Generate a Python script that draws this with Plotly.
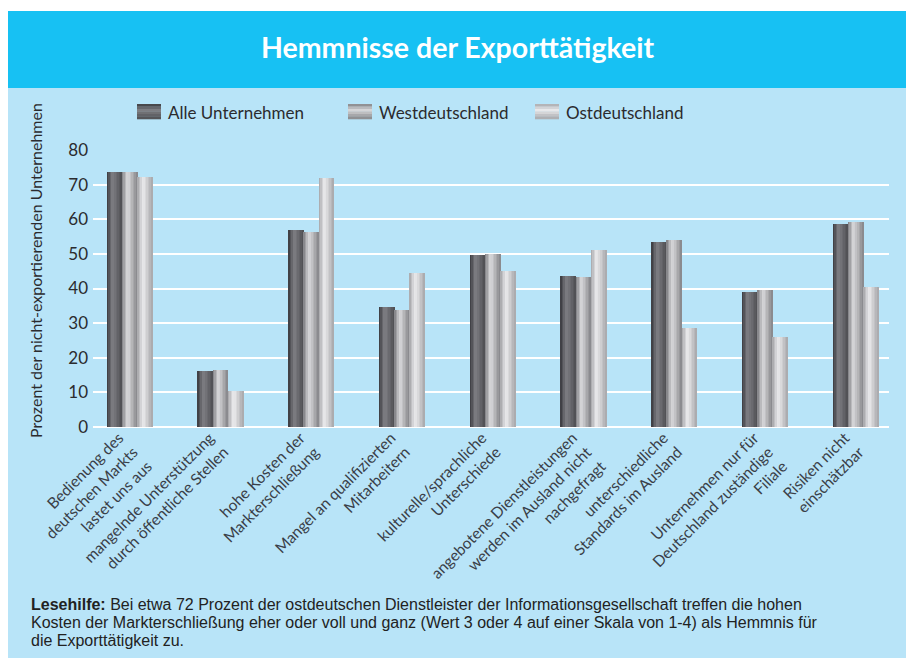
import plotly.graph_objects as go

# ---------------- data ----------------
categories = [
    "Bedienung des<br>deutschen Markts<br>lastet uns aus",
    "mangelnde Unterstützung<br>durch öffentliche Stellen",
    "hohe Kosten der<br>Markterschließung",
    "Mangel an qualifizierten<br>Mitarbeitern",
    "kulturelle/sprachliche<br>Unterschiede",
    "angebotene Dienstleistungen<br>werden im Ausland nicht<br>nachgefragt",
    "unterschiedliche<br>Standards im Ausland",
    "Unternehmen nur für<br>Deutschland zuständige<br>Filiale",
    "Risiken nicht<br>einschätzbar",
]
alle = [73.6, 16.2, 56.9, 34.7, 49.7, 43.6, 53.4, 39.0, 58.6]
west = [73.6, 16.5, 56.3, 33.9, 50.0, 43.4, 54.0, 39.6, 59.2]
ost = [72.1, 10.5, 71.9, 44.5, 45.1, 51.1, 28.6, 26.0, 40.5]
series_names = ["Alle Unternehmen", "Westdeutschland", "Ostdeutschland"]
y_ticks = [0, 10, 20, 30, 40, 50, 60, 70, 80]

title_text = "Hemmnisse der Exporttätigkeit"
y_title = "Prozent der nicht-exportierenden Unternehmen"
note_lines = [
    "<b>Lesehilfe:</b> Bei etwa 72 Prozent der ostdeutschen Dienstleister der "
    "Informationsgesellschaft treffen die hohen",
    "Kosten der Markterschließung eher oder voll und ganz (Wert 3 oder 4 auf einer "
    "Skala von 1-4) als Hemmnis für",
    "die Exporttätigkeit zu.",
]

# ---------------- layout geometry (page pixels, body margin removed) ----------------
W_PX, H_PX = 906, 658
L, R, T, B = 93, 889, 150, 427
PW, PH = R - L, B - T


def px(x):
    return (x - L) / PW


def py(y):
    return (B - y) / PH


FONT = "Lato, 'Open Sans', sans-serif"
NOTE_FONT = "'Liberation Sans', Arial, sans-serif"
TXT = "#2b2b2e"

# cylinder-like shading for each series: (left edge, peak, right edge)
shades = [
    ((56, 56, 60), (128, 128, 133), (78, 78, 82)),
    ((124, 124, 128), (218, 218, 220), (132, 132, 136)),
    ((164, 164, 167), (236, 236, 238), (166, 166, 169)),
]
STRIPS = 10
BAR_W = 0.168
offsets = [-1.5 * BAR_W, -0.5 * BAR_W, 0.5 * BAR_W]


def strip_colour(shade, t):
    edge, peak, right = shade
    if t < 0.38:
        f = t / 0.38
        c = [edge[i] + (peak[i] - edge[i]) * f for i in range(3)]
    else:
        f = (t - 0.38) / 0.62
        c = [peak[i] + (right[i] - peak[i]) * f for i in range(3)]
    return "rgb(%d,%d,%d)" % tuple(int(round(v)) for v in c)


fig = go.Figure()
xs = list(range(len(categories)))
for s, (name, vals) in enumerate(zip(series_names, [alle, west, ost])):
    sw = BAR_W / STRIPS
    for k in range(STRIPS):
        t = (k + 0.5) / STRIPS
        fig.add_trace(go.Bar(
            x=xs, y=vals, name=name,
            width=sw * 1.03, offset=offsets[s] + k * sw,
            marker=dict(color=strip_colour(shades[s], t), line=dict(width=0)),
            showlegend=False, hoverinfo="skip",
        ))

shapes = [
    dict(type="rect", xref="paper", yref="paper", x0=px(8), x1=px(W_PX + 5),
         y0=py(H_PX + 5), y1=py(88), fillcolor="#b8e4f8", line=dict(width=0), layer="below"),
    dict(type="rect", xref="paper", yref="paper", x0=px(8), x1=px(W_PX + 5),
         y0=py(88), y1=py(11), fillcolor="#17c1f3", line=dict(width=0), layer="below"),
]

annotations = [
    dict(text=title_text, xref="paper", yref="paper", x=px(457), y=py(47),
         xanchor="center", yanchor="middle", showarrow=False,
         font=dict(family=FONT, size=28.5, color="white", weight="bold")),
    dict(text=y_title, xref="paper", yref="paper", x=px(35), y=py(271),
         xanchor="center", yanchor="middle", textangle=-90, showarrow=False,
         font=dict(family=FONT, size=16, color=TXT)),
]
for j, line in enumerate(note_lines):
    annotations.append(dict(
        text=line, xref="paper", yref="paper", x=px(29), y=py(604 + 18 * j),
        xanchor="left", yanchor="middle", align="left", showarrow=False,
        font=dict(family=NOTE_FONT, size=16, color="#222")))

# legend (drawn as swatches + labels)
legend_swatch_x = [137, 348, 535]
SW_W, SW_Y0, SW_Y1 = 24, 104, 119
BANDS = 6
for s, name in enumerate(series_names):
    x0 = legend_swatch_x[s]
    bh = (SW_Y1 - SW_Y0) / BANDS
    for k in range(BANDS):
        t = (k + 0.5) / BANDS
        shapes.append(dict(type="rect", xref="paper", yref="paper",
                           x0=px(x0), x1=px(x0 + SW_W),
                           y0=py(SW_Y0 + (k + 1) * bh + 0.3), y1=py(SW_Y0 + k * bh),
                           fillcolor=strip_colour(shades[s], t), line=dict(width=0)))
    annotations.append(dict(
        text=name, xref="paper", yref="paper", x=px(x0 + SW_W + 5), y=py(112),
        xanchor="left", yanchor="middle", showarrow=False,
        font=dict(family=FONT, size=17, color=TXT)))

fig.update_layout(
    width=W_PX, height=H_PX,
    margin=dict(l=L, r=W_PX - R, t=T, b=H_PX - B, pad=0),
    paper_bgcolor="white", plot_bgcolor="rgba(0,0,0,0)",
    barmode="overlay", bargap=0,
    shapes=shapes, annotations=annotations,
    showlegend=False,
    xaxis=dict(range=[-0.408, 8.364], tickvals=xs, ticktext=categories, tickangle=-45,
               tickfont=dict(family=FONT, size=15.5, color="#3a3f48"),
               ticklabelshift=-11, ticklabelstandoff=-2,
               showgrid=False, zeroline=False, showline=False, ticks=""),
    yaxis=dict(range=[0, 80], tickvals=y_ticks, showgrid=True, gridcolor="white",
               gridwidth=2, zeroline=True, zerolinecolor="white", zerolinewidth=2,
               showline=False, ticks="", ticklabelstandoff=4,
               tickfont=dict(family=FONT, size=17, color=TXT)),
    font=dict(family=FONT),
)

fig.write_html(
    "out.html",
    config={"displayModeBar": False},
    post_script="document.body.style.margin='0';"
                "document.documentElement.style.overflow='hidden';",
)
